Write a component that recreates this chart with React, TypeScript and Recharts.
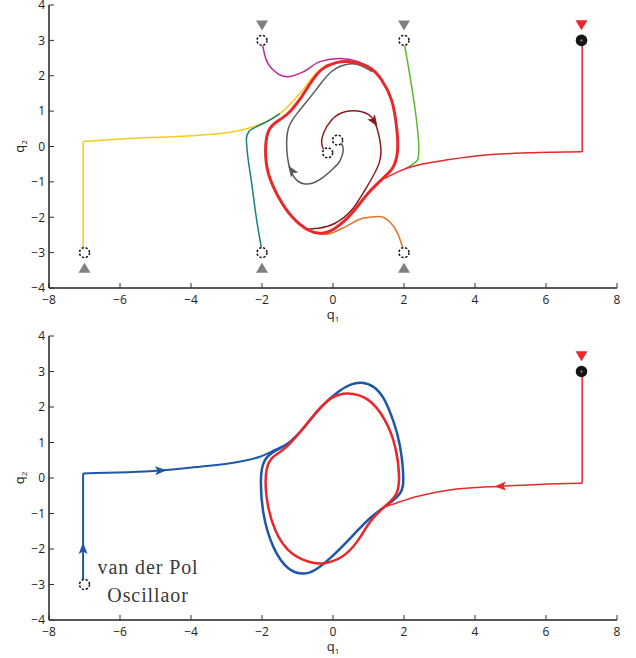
import { ComposedChart, Line, Scatter, XAxis, YAxis } from 'recharts';

type Pt = { x: number; y: number };

const xTicks = [-8, -6, -4, -2, 0, 2, 4, 6, 8];
const yTicks = [-4, -3, -2, -1, 0, 1, 2, 3, 4];

// ---- top panel: several starts converging on the limit cycle ----
const redCycleTop: Pt[] = [
  { x: -0.9, y: 1.38 }, { x: -0.53, y: 1.94 }, { x: -0.23, y: 2.24 }, { x: 0.1, y: 2.37 },
  { x: 0.43, y: 2.4 }, { x: 0.99, y: 2.25 }, { x: 1.37, y: 1.88 }, { x: 1.65, y: 1.31 },
  { x: 1.79, y: 0.56 }, { x: 1.82, y: -0.1 }, { x: 1.7, y: -0.57 }, { x: 1.46, y: -0.85 },
  { x: 0.99, y: -1.32 }, { x: 0.53, y: -1.89 }, { x: 0.06, y: -2.31 }, { x: -0.32, y: -2.45 },
  { x: -0.7, y: -2.36 }, { x: -1.16, y: -1.98 }, { x: -1.54, y: -1.42 }, { x: -1.82, y: -0.76 },
  { x: -1.9, y: -0.1 }, { x: -1.84, y: 0.37 }, { x: -1.66, y: 0.64 }, { x: -1.26, y: 0.94 },
  { x: -0.9, y: 1.38 },
];
const redDropTop: Pt[] = [{ x: 7.02, y: 2.85 }, { x: 7.02, y: -0.15 }];
const redTailTop: Pt[] = [
  { x: 1.46, y: -0.9 }, { x: 1.84, y: -0.71 }, { x: 2.1, y: -0.61 }, { x: 2.55, y: -0.49 },
  { x: 3.28, y: -0.37 }, { x: 4.22, y: -0.25 }, { x: 5.5, y: -0.18 }, { x: 7.02, y: -0.15 },
];
const yellowDrop: Pt[] = [{ x: -7.04, y: -2.85 }, { x: -7.04, y: 0.14 }];
const yellowTail: Pt[] = [
  { x: -7.04, y: 0.14 }, { x: -5.63, y: 0.23 }, { x: -3.75, y: 0.32 }, { x: -2.81, y: 0.42 },
  { x: -2.25, y: 0.56 }, { x: -1.5, y: 0.93 }, { x: -0.95, y: 1.48 }, { x: -0.5, y: 2.04 },
  { x: -0.15, y: 2.32 },
];
const tealPath: Pt[] = [
  { x: -2.02, y: -2.85 }, { x: -2.15, y: -2.08 }, { x: -2.29, y: -1.04 }, { x: -2.42, y: -0.1 },
  { x: -2.44, y: 0.22 }, { x: -2.36, y: 0.44 }, { x: -2.15, y: 0.56 }, { x: -1.9, y: 0.68 },
  { x: -1.5, y: 0.93 },
];
const magentaPath: Pt[] = [
  { x: -1.98, y: 2.85 }, { x: -1.9, y: 2.5 }, { x: -1.68, y: 2.16 }, { x: -1.3, y: 1.97 },
  { x: -0.84, y: 2.11 }, { x: -0.37, y: 2.4 }, { x: 0.2, y: 2.49 }, { x: 0.71, y: 2.4 },
  { x: 1.0, y: 2.25 },
];
const greenPath: Pt[] = [
  { x: 2.02, y: 2.85 }, { x: 2.2, y: 1.79 }, { x: 2.34, y: 0.84 }, { x: 2.42, y: -0.1 },
  { x: 2.39, y: -0.36 }, { x: 2.25, y: -0.5 }, { x: 2.05, y: -0.62 },
];
const orangePath: Pt[] = [
  { x: 1.96, y: -2.85 }, { x: 1.82, y: -2.45 }, { x: 1.59, y: -2.12 }, { x: 1.3, y: -1.98 },
  { x: 0.84, y: -2.03 }, { x: 0.27, y: -2.31 }, { x: -0.2, y: -2.48 }, { x: -0.55, y: -2.44 },
];
const graySpiral: Pt[] = [
  { x: 0.22, y: 0.12 }, { x: 0.29, y: -0.1 }, { x: 0.2, y: -0.4 }, { x: 0.06, y: -0.57 },
  { x: -0.32, y: -0.9 }, { x: -0.79, y: -1.06 }, { x: -1.16, y: -0.76 }, { x: -1.3, y: -0.1 },
  { x: -1.26, y: 0.5 }, { x: -1.0, y: 0.95 }, { x: -0.48, y: 1.6 }, { x: -0.04, y: 2.12 },
  { x: 0.45, y: 2.33 }, { x: 0.8, y: 2.28 }, { x: 1.1, y: 2.12 },
];
const darkRedSpiral: Pt[] = [
  { x: -0.27, y: -0.08 }, { x: -0.32, y: 0.1 }, { x: -0.27, y: 0.37 }, { x: -0.04, y: 0.75 },
  { x: 0.34, y: 0.98 }, { x: 0.81, y: 0.98 }, { x: 1.14, y: 0.75 }, { x: 1.32, y: 0.18 },
  { x: 1.3, y: -0.47 }, { x: 0.9, y: -1.23 }, { x: 0.53, y: -1.79 }, { x: 0.06, y: -2.17 },
  { x: -0.41, y: -2.31 }, { x: -0.75, y: -2.34 },
];
const startRingsTop: Pt[] = [
  { x: -2, y: 3 }, { x: 2, y: 3 }, { x: -7, y: -3 }, { x: -2, y: -3 }, { x: 2, y: -3 },
  { x: 0.13, y: 0.18 }, { x: -0.15, y: -0.18 },
];
const grayDownTop: Pt[] = [{ x: -2, y: 3.42 }, { x: 2, y: 3.42 }];
const grayUpTop: Pt[] = [{ x: -7, y: -3.43 }, { x: -2, y: -3.43 }, { x: 2, y: -3.43 }];
const darkRedArrows = [{ x: 1.15, y: 0.72, px: 1.03, py: 0.9 }];
const grayArrows = [{ x: -1.16, y: -0.69, px: -1.0, py: -0.92 }];

// ---- bottom panel: van der Pol vs. red reference ----
const blueDrop: Pt[] = [{ x: -7.04, y: -2.85 }, { x: -7.04, y: 0.13 }];
const blueTail: Pt[] = [
  { x: -7.04, y: 0.13 }, { x: -4.87, y: 0.21 }, { x: -3.75, y: 0.32 }, { x: -2.81, y: 0.43 },
  { x: -2.06, y: 0.6 }, { x: -1.62, y: 0.8 }, { x: -1.26, y: 0.98 }, { x: -0.79, y: 1.45 },
];
const blueCycle: Pt[] = [
  { x: -0.79, y: 1.45 }, { x: -0.32, y: 2.01 }, { x: 0.15, y: 2.43 }, { x: 0.5, y: 2.63 },
  { x: 0.81, y: 2.68 }, { x: 1.15, y: 2.56 }, { x: 1.45, y: 2.2 }, { x: 1.7, y: 1.6 },
  { x: 1.89, y: 0.88 }, { x: 1.98, y: -0.06 }, { x: 1.89, y: -0.43 }, { x: 1.65, y: -0.67 },
  { x: 1.09, y: -1.09 }, { x: 0.53, y: -1.65 }, { x: -0.04, y: -2.22 }, { x: -0.51, y: -2.59 },
  { x: -0.84, y: -2.69 }, { x: -1.26, y: -2.54 }, { x: -1.68, y: -1.94 }, { x: -1.96, y: -0.99 },
  { x: -2.03, y: -0.06 }, { x: -1.96, y: 0.41 }, { x: -1.73, y: 0.7 }, { x: -1.26, y: 0.98 },
  { x: -0.79, y: 1.45 },
];
const redCycleBottom: Pt[] = [
  { x: -0.88, y: 1.35 }, { x: -0.41, y: 1.92 }, { x: -0.04, y: 2.25 }, { x: 0.4, y: 2.38 },
  { x: 0.99, y: 2.2 }, { x: 1.46, y: 1.63 }, { x: 1.75, y: 0.88 }, { x: 1.86, y: 0.04 },
  { x: 1.79, y: -0.43 }, { x: 1.56, y: -0.71 }, { x: 1.09, y: -1.18 }, { x: 0.71, y: -1.75 },
  { x: 0.25, y: -2.22 }, { x: -0.23, y: -2.4 }, { x: -0.6, y: -2.38 }, { x: -1.16, y: -2.12 },
  { x: -1.63, y: -1.46 }, { x: -1.87, y: -0.53 }, { x: -1.87, y: 0.23 }, { x: -1.68, y: 0.6 },
  { x: -1.35, y: 0.84 }, { x: -0.88, y: 1.35 },
];
const redDropBottom: Pt[] = [{ x: 7.02, y: 2.85 }, { x: 7.02, y: -0.15 }];
const redTailBottom: Pt[] = [
  { x: 1.5, y: -0.8 }, { x: 1.77, y: -0.71 }, { x: 2.34, y: -0.53 }, { x: 3.28, y: -0.34 },
  { x: 4.73, y: -0.23 }, { x: 5.8, y: -0.18 }, { x: 7.02, y: -0.15 },
];
const blueArrows = [
  { x: -7.04, y: -2.0, px: -7.04, py: -2.4 },
  { x: -4.87, y: 0.21, px: -5.4, py: 0.19 },
];
const redArrowsBottom = [{ x: 4.73, y: -0.23, px: 5.3, py: -0.21 }];
const startRingBottom: Pt[] = [{ x: -7, y: -3 }];
const noteAnchor: Pt[] = [{ x: -5.21, y: -2.7 }];
const noteLines = ['van der Pol', 'Oscillaor'];

// shared markers
const blackDot: Pt[] = [{ x: 7, y: 3 }];
const redDown: Pt[] = [{ x: 7, y: 3.43 }];

const C = {
  red: '#e8282b',
  yellow: '#f3cc1c',
  teal: '#17817d',
  magenta: '#c1288f',
  green: '#5cb82f',
  orange: '#df7329',
  gray: '#5a5a5a',
  darkRed: '#8c1b1f',
  blue: '#1f56a6',
  marker: '#808080',
};

const FONT = "'Open Sans', 'DejaVu Sans', sans-serif";
const fmt = (v: number) => (v < 0 ? `\u2212${-v}` : `${v}`);

const XTitle = (props: any) => {
  const vb = props.viewBox || {};
  return (
    <text x={vb.x + vb.width / 2} y={vb.y + 31} textAnchor="middle" fontFamily={FONT} fontSize={13} fill="#222">
      q<tspan fontSize={8} dy={3}>1</tspan>
    </text>
  );
};

const YTitle = (props: any) => {
  const vb = props.viewBox || {};
  const cy = vb.y + vb.height / 2;
  return (
    <text x={24} y={cy} transform={`rotate(-90 24 ${cy})`} textAnchor="middle" fontFamily={FONT} fontSize={13} fill="#222">
      q<tspan fontSize={8} dy={3}>2</tspan>
    </text>
  );
};

const ring = (p: any) => (
  <circle cx={p.cx} cy={p.cy} r={5} fill="#fff" stroke="#111" strokeWidth={1.5} strokeDasharray="2.3 1.7" />
);

const dot = (p: any) => (
  <g>
    <circle cx={p.cx} cy={p.cy} r={5.8} fill="#151515" />
    <circle cx={p.cx} cy={p.cy} r={1.2} fill="#777" />
  </g>
);

const triangle = (color: string, up: boolean) => (p: any) => {
  const s = up ? -1 : 1;
  return (
    <path
      d={`M${p.cx - 6},${p.cy - 5 * s}L${p.cx + 6},${p.cy - 5 * s}L${p.cx},${p.cy + 5 * s}Z`}
      fill={color}
    />
  );
};

const arrowHead = (color: string) => (p: any) => {
  const { cx, cy, payload } = p;
  const a = Math.atan2(-(payload.y - payload.py), payload.x - payload.px);
  const c = Math.cos(a);
  const s = Math.sin(a);
  const pts = [
    [6.5, 0],
    [-5, -4.5],
    [-2.5, 0],
    [-5, 4.5],
  ].map(([u, v]) => `${cx + u * c - v * s},${cy + u * s + v * c}`);
  return <polygon points={pts.join(' ')} fill={color} />;
};

const note = (p: any) => (
  <text x={p.cx} y={p.cy} textAnchor="middle" fontFamily="'Liberation Serif', serif" fontSize={20} letterSpacing={0.9} fill="#3a3a3a">
    <tspan x={p.cx} dy={0}>{noteLines[0]}</tspan>
    <tspan x={p.cx} dy={28}>{noteLines[1]}</tspan>
  </text>
);

const tickStyle = { fontSize: 12, fill: '#222', fontFamily: FONT };
const frame = { stroke: '#222', strokeWidth: 1.5 };
const tickLn = { stroke: '#333', strokeWidth: 1 };

function axes(xh: number) {
  return [
    <XAxis
      key="xb"
      type="number"
      dataKey="x"
      domain={[-8, 8]}
      ticks={xTicks}
      interval={0}
      allowDataOverflow
      height={xh}
      tickSize={-5}
      tickMargin={12}
      tick={tickStyle}
      tickFormatter={fmt}
      axisLine={frame}
      tickLine={tickLn}
      label={<XTitle />}
    />,
    <XAxis
      key="xt"
      xAxisId="t"
      orientation="top"
      type="number"
      dataKey="x"
      domain={[-8, 8]}
      ticks={xTicks}
      interval={0}
      allowDataOverflow
      height={0}
      tickSize={-5}
      tick={false}
      axisLine={frame}
      tickLine={tickLn}
    />,
    <YAxis
      key="yl"
      type="number"
      dataKey="y"
      domain={[-4, 4]}
      ticks={yTicks}
      interval={0}
      allowDataOverflow
      width={49}
      tickSize={-5}
      tickMargin={9}
      tick={tickStyle}
      tickFormatter={fmt}
      axisLine={frame}
      tickLine={tickLn}
      label={<YTitle />}
    />,
    <YAxis
      key="yr"
      yAxisId="r"
      orientation="right"
      type="number"
      dataKey="y"
      domain={[-4, 4]}
      ticks={yTicks}
      interval={0}
      allowDataOverflow
      width={0}
      tickSize={-5}
      tick={false}
      axisLine={frame}
      tickLine={tickLn}
    />,
  ];
}

const path = (key: string, data: Pt[], color: string, type: any, width = 1.5) => (
  <Line
    key={key}
    data={data}
    dataKey="y"
    type={type}
    stroke={color}
    strokeWidth={width}
    dot={false}
    activeDot={false}
    isAnimationActive={false}
  />
);

const marks = (key: string, data: any[], shape: any) => (
  <Scatter key={key} data={data} dataKey="y" shape={shape} isAnimationActive={false} />
);

export default function App() {
  return (
    <div style={{ position: 'absolute', left: 0, top: 0, width: 636, height: 658, background: '#fff' }}>
      <ComposedChart width={636} height={329} margin={{ top: 5, right: 19, bottom: 0, left: 0 }}>
        {axes(41)}
        {path('yd', yellowDrop, C.yellow, 'linear')}
        {path('yt', yellowTail, C.yellow, 'monotoneX')}
        {path('tl', tealPath, C.teal, 'monotoneY')}
        {path('mg', magentaPath, C.magenta, 'monotoneX')}
        {path('gr', greenPath, C.green, 'monotoneY')}
        {path('or', orangePath, C.orange, 'monotoneX')}
        {path('gs', graySpiral, C.gray, 'natural')}
        {path('dr', darkRedSpiral, C.darkRed, 'natural')}
        {path('rd', redDropTop, C.red, 'linear')}
        {path('rt', redTailTop, C.red, 'monotoneX')}
        {path('rc', redCycleTop, C.red, 'natural', 3)}
        {marks('ga', grayArrows, arrowHead(C.gray))}
        {marks('da', darkRedArrows, arrowHead(C.darkRed))}
        {marks('rg', startRingsTop, ring)}
        {marks('bd', blackDot, dot)}
        {marks('gd', grayDownTop, triangle(C.marker, false))}
        {marks('gu', grayUpTop, triangle(C.marker, true))}
        {marks('rdn', redDown, triangle(C.red, false))}
      </ComposedChart>
      <ComposedChart width={636} height={329} margin={{ top: 7, right: 19, bottom: 0, left: 0 }}>
        {axes(38)}
        {path('bd', blueDrop, C.blue, 'linear', 2)}
        {path('bt', blueTail, C.blue, 'monotoneX', 2)}
        {path('bc', blueCycle, C.blue, 'natural', 2.5)}
        {path('rc', redCycleBottom, C.red, 'natural', 2.5)}
        {path('rd', redDropBottom, C.red, 'linear')}
        {path('rt', redTailBottom, C.red, 'monotoneX')}
        {marks('ba', blueArrows, arrowHead(C.blue))}
        {marks('ra', redArrowsBottom, arrowHead(C.red))}
        {marks('rg', startRingBottom, ring)}
        {marks('bk', blackDot, dot)}
        {marks('rdn', redDown, triangle(C.red, false))}
        {marks('nt', noteAnchor, note)}
      </ComposedChart>
    </div>
  );
}
